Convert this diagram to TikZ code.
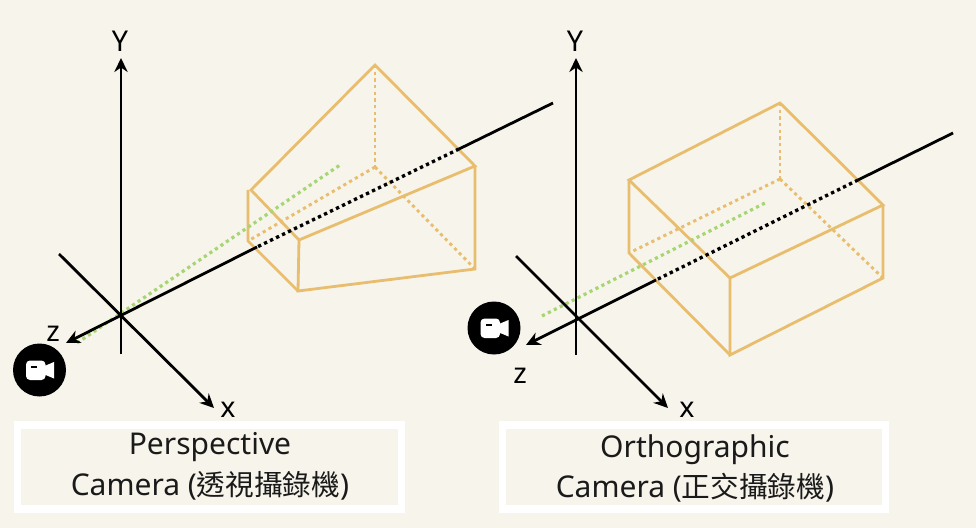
\documentclass[tikz,border=0pt]{standalone}
\usepackage{fontspec}
\setmainfont{Noto Sans}
\newfontfamily\cjk[Scale=0.955]{Noto Sans CJK TC}
\usetikzlibrary{arrows.meta}
\definecolor{paper}{HTML}{F7F4EB}
\definecolor{gold}{HTML}{E8BE6E}
\definecolor{leaf}{HTML}{A5D673}
\definecolor{ink}{HTML}{000000}
\definecolor{captionink}{HTML}{1A1A1A}
\tikzset{
  axisline/.style={draw=ink,line width=2.1pt},
  axisarrow/.style={axisline,-{Stealth[length=10.5pt,width=10pt]}},
  axisdots/.style={draw=ink,line width=2.5pt,dash pattern=on 2.5pt off 2.5pt},
  edgeline/.style={draw=gold,line width=2.1pt,line join=miter},
  edgedots/.style={draw=gold,line width=2.2pt,dash pattern=on 2.4pt off 2.6pt},
  sightline/.style={draw=leaf,line width=2.4pt,dash pattern=on 2.4pt off 2.6pt},
  axislabel/.style={text=ink,font=\fontsize{21.5}{24}\selectfont,inner sep=0pt,anchor=base},
  captionbox/.style={draw=white,line width=5.5pt,fill=paper,minimum width=286.5bp,minimum height=63bp,inner sep=0pt},
  captiontext/.style={text=captionink,font=\fontsize{22.5}{30}\selectfont,inner sep=0pt,anchor=base},
  cameradisc/.style={circle,fill=ink,minimum size=39.75pt,inner sep=0pt},
}
\newcommand{\camicon}[2]{%
  \fill[white,rounded corners=3pt] (#1-13.5,#2-9.5) rectangle (#1+6,#2+10);
  \fill[white] (#1+5,#2-4) -- (#1+14.5,#2-8) -- (#1+14.5,#2+8.5) -- (#1+5,#2+4.5) -- cycle;
  \fill[ink] (#1-8.5,#2-4.5) rectangle (#1-2.5,#2-2.5);
}
\begin{document}
\begin{tikzpicture}[x=0.75pt,y=-0.75pt]
\useasboundingbox (0,0) rectangle (976,528);
\fill[paper] (0,0) rectangle (976,528);

% ---------- Perspective: frustum
\coordinate (pTop) at (375,65);
\coordinate (pLeft) at (251,190);
\coordinate (pFront) at (299,240);
\coordinate (pRight) at (475,166);
\coordinate (pRightB) at (475,269);
\coordinate (pFrontB) at (298,291);
\coordinate (pNearA) at (248,190);
\coordinate (pNearB) at (248,241);
\coordinate (pBack) at (375,167);
\draw[edgedots] (pTop) -- (pBack);
\draw[edgedots] (pBack) -- (pRightB);
\draw[edgedots] (pBack) -- (pNearB);
\draw[edgeline] (pTop) -- (pLeft) -- (pFront) -- (pRight) -- cycle;
\draw[edgeline] (pRight) -- (pRightB) -- (pFrontB) -- (pFront);
\draw[edgeline] (pNearA) -- (pNearB) -- (pFrontB);

% ---------- Perspective: axes
\coordinate (pYs) at (121,354);
\coordinate (pYe) at (121,58);
\coordinate (pXs) at (59,254);
\coordinate (pXe) at (214,408);
\coordinate (pZs) at (553,103);
\coordinate (pZa) at (459,149);
\coordinate (pZb) at (257,247);
\coordinate (pZe) at (66,343);
\coordinate (pGa) at (77,343);
\coordinate (pGb) at (340,165);
\draw[sightline] (pGa) -- (pGb);
\draw[axisarrow] (pYs) -- (pYe);
\draw[axisarrow] (pXs) -- (pXe);
\draw[axisline] (pZs) -- (pZa);
\draw[axisdots] (pZa) -- (pZb);
\draw[axisarrow] (pZb) -- (pZe);
\node[axislabel] (pYl) at (120,52) {Y};
\node[axislabel] (pXl) at (228,417) {x};
\node[axislabel] (pZl) at (53,341) {z};
\node[cameradisc] (pCam) at (39.5,370) {};
\camicon{39.5}{370}

% ---------- Orthographic: box
\coordinate (oTop) at (780,103);
\coordinate (oLeft) at (629,180);
\coordinate (oFront) at (730,278);
\coordinate (oRight) at (883,205);
\coordinate (oRightB) at (883,278);
\coordinate (oFrontB) at (730,355);
\coordinate (oLeftB) at (629,253);
\coordinate (oBack) at (780,179);
\draw[edgedots] (oTop) -- (oBack);
\draw[edgedots] (oBack) -- (oRightB);
\draw[edgedots] (oBack) -- (oLeftB);
\draw[edgeline] (oTop) -- (oLeft) -- (oFront) -- (oRight) -- cycle;
\draw[edgeline] (oRight) -- (oRightB) -- (oFrontB) -- (oFront);
\draw[edgeline] (oLeft) -- (oLeftB) -- (oFrontB);

% ---------- Orthographic: axes
\coordinate (oYs) at (576,355);
\coordinate (oYe) at (576,58);
\coordinate (oXs) at (516,256);
\coordinate (oXe) at (668,408);
\coordinate (oZs) at (953,133);
\coordinate (oZa) at (858,180);
\coordinate (oZb) at (656,280);
\coordinate (oZe) at (526,345);
\coordinate (oGa) at (542,316);
\coordinate (oGb) at (765,203);
\draw[sightline] (oGa) -- (oGb);
\draw[axisarrow] (oYs) -- (oYe);
\draw[axisarrow] (oXs) -- (oXe);
\draw[axisline] (oZs) -- (oZa);
\draw[axisdots] (oZa) -- (oZb);
\draw[axisarrow] (oZb) -- (oZe);
\node[axislabel] (oYl) at (575,52) {Y};
\node[axislabel] (oXl) at (687,417) {x};
\node[axislabel] (oZl) at (520,383) {z};
\node[cameradisc] (oCam) at (494,328) {};
\camicon{494}{328}

% ---------- captions
\node[captionbox] (pBox) at (209.5,467) {};
\node[captiontext] (pCap1) at (210,454) {Perspective};
\node[captiontext] (pCap2) at (210,495) {Camera ({\cjk 透視攝錄機})};
\node[captionbox] (oBox) at (694,467) {};
\node[captiontext] (oCap1) at (695,457) {Orthographic};
\node[captiontext] (oCap2) at (695,497) {Camera ({\cjk 正交攝錄機})};
\end{tikzpicture}
\end{document}
